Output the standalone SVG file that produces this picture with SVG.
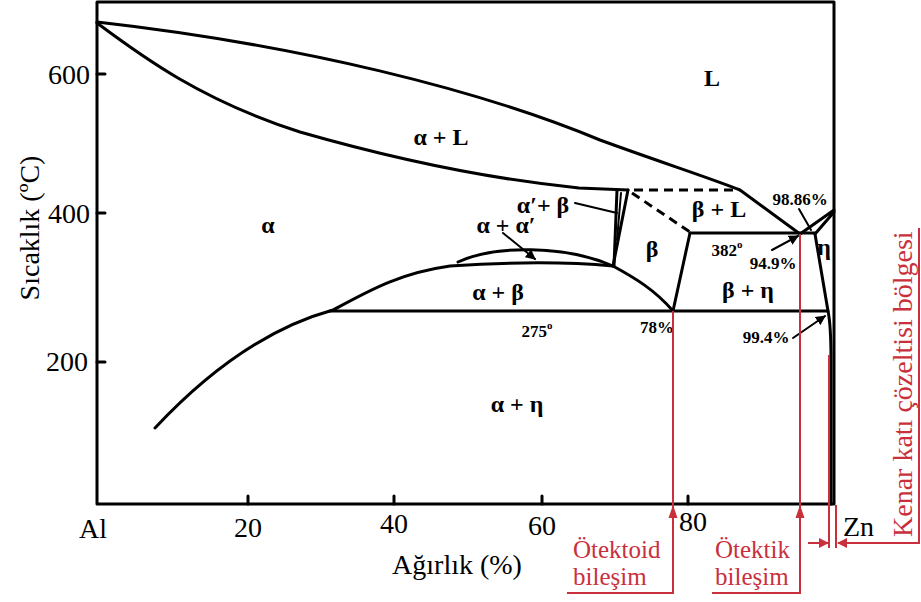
<svg xmlns="http://www.w3.org/2000/svg" width="921" height="602" viewBox="0 0 921 602" font-family="Liberation Serif, Times New Roman, serif">
<defs>
<style>
.ln{fill:none;stroke:#000;stroke-width:3;stroke-linecap:round;stroke-linejoin:round}
.thin{fill:none;stroke:#000;stroke-width:2;stroke-linecap:round}
.dash{fill:none;stroke:#000;stroke-width:3;stroke-dasharray:9 6}
.red{fill:none;stroke:#c9303c;stroke-width:2}
.ax{font-size:28px;fill:#000}
.ph{font-size:24px;font-weight:bold;fill:#000}
.sm{font-size:17px;font-weight:bold;fill:#000}
.rt{font-size:25px;fill:#c9303c}
.rv{font-size:28px;fill:#c9303c}
</style>
<marker id="ah" viewBox="0 0 10 10" refX="9" refY="5" markerWidth="5" markerHeight="5" orient="auto" markerUnits="strokeWidth">
<path d="M0,0 L10,5 L0,10 z" fill="#000"/>
</marker>
<marker id="rah" viewBox="0 0 10 10" refX="9" refY="5" markerWidth="5" markerHeight="5" orient="auto" markerUnits="strokeWidth">
<path d="M0,0 L10,5 L0,10 z" fill="#c9303c"/>
</marker>
<path id="rup" d="M0,0 L-4.5,13 L4.5,13 z" fill="#c9303c"/>
</defs>
<rect width="921" height="602" fill="#fff"/>

<g id="axes" font-family="Liberation Serif, serif">
<rect x="97" y="2" width="737" height="502" class="ln"/>
<path class="ln" d="M97,74 H105 M97,213 H105 M97,362 H105 M248,504 V496 M394,504 V496 M542,504 V496 M688,504 V496"/>
<text class="ax" x="90" y="84" text-anchor="end">600</text>
<text class="ax" x="90" y="223" text-anchor="end">400</text>
<text class="ax" x="88" y="371" text-anchor="end">200</text>
<text class="ax" x="93" y="538" text-anchor="middle">Al</text>
<text class="ax" x="248" y="537" text-anchor="middle">20</text>
<text class="ax" x="394" y="533" text-anchor="middle">40</text>
<text class="ax" x="542" y="535" text-anchor="middle">60</text>
<text class="ax" x="693" y="531" text-anchor="middle">80</text>
<text class="ax" x="843" y="536">Zn</text>
<text class="ax" x="457" y="574" text-anchor="middle">Ağırlık (%)</text>
<text class="ax" transform="translate(39,228) rotate(-90)" text-anchor="middle">Sıcaklık (ºC)</text>
</g>

<g id="phase-lines">
<path class="ln" d="M97,22 C300,45 480,90 600,140 C660,162 710,178 740,190 L800,234"/>
<path class="ln" d="M97,23 C140,55 200,100 300,132 C380,155 480,178 579,188 L628,190"/>
<path class="dash" d="M634,190 H740"/>
<path class="dash" d="M632,193 L690,232"/>
<path class="ln" d="M690,233 H815"/>
<path class="ln" d="M800,234 L834,210 M815,234 L834,212"/>
<path class="ln" d="M815,234 L828,311 C831,325 831,340 831,360 L831,504"/>
<path class="ln" d="M330,311 H828"/>
<path class="ln" d="M155,428 C200,380 260,330 333,310 C370,290 400,273 450,266 C510,262 570,262 613,266"/>
<path class="ln" d="M458,262 C495,245 565,245 613,266"/>
<path class="ln" d="M613,266 C635,278 655,290 673,311"/>
<path class="ln" d="M690,233 L673,311"/>
<path class="ln" d="M617,190 L614,266"/>
<path class="ln" d="M628,190 L613,266"/>
<path class="thin" d="M621,193 L617,240"/>
</g>

<g id="leaders">
<path class="thin" d="M575,203 L617,213"/>
<path class="thin" d="M503,233 L535,259" marker-end="url(#ah)"/>
<path class="thin" d="M799,209 L811,230"/>
<path class="thin" d="M772,250 L798,236" marker-end="url(#ah)"/>
<path class="thin" d="M793,338 L825,316" marker-end="url(#ah)"/>
</g>

<g id="labels" font-family="Liberation Serif, serif">
<text class="ph" x="712" y="86" text-anchor="middle">L</text>
<text class="ph" x="441" y="145" text-anchor="middle">α + L</text>
<text class="ph" x="268" y="233" text-anchor="middle">α</text>
<text class="ph" x="543" y="213" text-anchor="middle">α′+ β</text>
<text class="ph" x="506" y="233" text-anchor="middle">α + α′</text>
<text class="ph" x="719" y="217" text-anchor="middle">β + L</text>
<text class="ph" x="652" y="257" text-anchor="middle">β</text>
<text class="ph" x="824" y="255" text-anchor="middle">η</text>
<text class="ph" x="498" y="300" text-anchor="middle">α + β</text>
<text class="ph" x="748" y="298" text-anchor="middle">β + η</text>
<text class="ph" x="517" y="412" text-anchor="middle">α + η</text>
<text class="sm" x="800" y="205" text-anchor="middle">98.86%</text>
<text class="sm" x="727" y="256" text-anchor="middle">382<tspan font-size="11" dy="-8">o</tspan></text>
<text class="sm" x="773" y="269" text-anchor="middle">94.9%</text>
<text class="sm" x="537" y="337" text-anchor="middle">275<tspan font-size="11" dy="-8">o</tspan></text>
<text class="sm" x="657" y="333" text-anchor="middle">78%</text>
<text class="sm" x="766" y="343" text-anchor="middle">99.4%</text>
</g>

<g id="annotations" font-family="Liberation Serif, serif">
<path class="red" d="M673,311 V593 H567"/>
<use href="#rup" x="673" y="505"/>
<text class="rt" x="573" y="558">Ötektoid</text>
<text class="rt" x="573" y="585">bileşim</text>
<path class="red" d="M800,234 V593 H712"/>
<use href="#rup" x="800" y="505"/>
<text class="rt" x="715" y="558">Ötektik</text>
<text class="rt" x="715" y="585">bileşim</text>
<path class="red" d="M829,355 V548 M836,505 V548"/>
<path class="red" d="M808,543 H828" marker-end="url(#rah)"/>
<path class="red" d="M919,228 V543 H838" marker-end="url(#rah)"/>
<text class="rv" transform="translate(912,537) rotate(-90)">Kenar katı çözeltisi bölgesi</text>
</g>
</svg>
